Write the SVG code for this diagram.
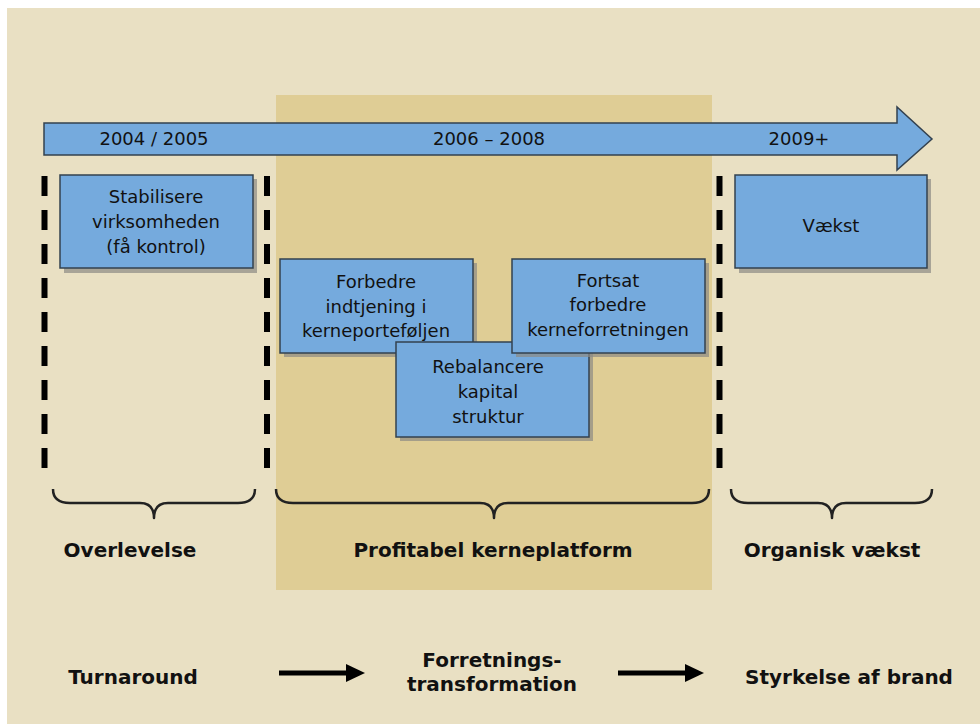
<svg xmlns="http://www.w3.org/2000/svg" width="980" height="724" viewBox="0 0 980 724">
<defs>
<style>
.box{fill:#75AADD;stroke:#33414f;stroke-width:1.5}
.shadow{fill:#8c8a84;opacity:0.7}
.bt{font-family:"DejaVu Sans",Verdana,sans-serif;font-size:18px;fill:#111;text-anchor:middle}
.lb{font-family:"DejaVu Sans",Verdana,sans-serif;font-size:20px;font-weight:bold;fill:#111;text-anchor:middle}
.dash{stroke:#000;stroke-width:6;stroke-dasharray:20 14;fill:none}
.brace{fill:none;stroke:#222;stroke-width:2.5;stroke-linejoin:round}
.arr{stroke:#000;stroke-width:5;fill:none}
</style>
</defs>
<rect x="0" y="0" width="980" height="724" fill="#ffffff"/>
<rect x="7" y="8" width="973" height="716" fill="#E9E0C3"/>
<rect x="276" y="95" width="436" height="495" fill="#DFCD95"/>

<g id="timeline">
<polygon points="44,123 897,123 897,107 932,139 897,170 897,155 44,155" fill="#75AADD" stroke="#33414f" stroke-width="1.5"/>
<text class="bt" x="154" y="145">2004 / 2005</text>
<text class="bt" x="489" y="145">2006 – 2008</text>
<text class="bt" x="799" y="145">2009+</text>
</g>

<g id="dividers">
<line class="dash" x1="44.5" y1="176" x2="44.5" y2="470"/>
<line class="dash" x1="267" y1="176" x2="267" y2="470"/>
<line class="dash" x1="719.5" y1="176" x2="719.5" y2="470"/>
</g>

<g id="stabilisere">
<rect class="shadow" x="64" y="179" width="193" height="94"/>
<rect class="box" x="60" y="175" width="193" height="93"/>
<text class="bt" x="156" y="203">Stabilisere</text>
<text class="bt" x="156" y="228">virksomheden</text>
<text class="bt" x="156" y="253">(få kontrol)</text>
</g>

<g id="forbedre">
<rect class="shadow" x="284" y="263" width="193" height="94"/>
<rect class="box" x="280" y="259" width="193" height="94"/>
<text class="bt" x="376" y="288">Forbedre</text>
<text class="bt" x="376" y="313">indtjening i</text>
<text class="bt" x="376" y="337">kerneporteføljen</text>
</g>

<g id="rebalancere">
<rect class="shadow" x="400" y="346" width="193" height="95"/>
<rect class="box" x="396" y="342" width="193" height="95"/>
<text class="bt" x="488" y="373">Rebalancere</text>
<text class="bt" x="488" y="398">kapital</text>
<text class="bt" x="488" y="423">struktur</text>
</g>

<g id="fortsat">
<rect class="shadow" x="516" y="263" width="193" height="94"/>
<rect class="box" x="512" y="259" width="193" height="94"/>
<text class="bt" x="608" y="287">Fortsat</text>
<text class="bt" x="608" y="311">forbedre</text>
<text class="bt" x="608" y="336">kerneforretningen</text>
</g>

<g id="vaekst">
<rect class="shadow" x="739" y="179" width="192" height="94"/>
<rect class="box" x="735" y="175" width="192" height="93"/>
<text class="bt" x="831" y="232">Vækst</text>
</g>

<g id="braces">
<path class="brace" d="M53,489 Q53,503 70,503 L140,503 Q154,503 154,518 Q154,503 168,503 L238,503 Q255,503 255,489"/>
<path class="brace" d="M276,489 Q276,503 293,503 L480,503 Q494,503 494,518 Q494,503 508,503 L692,503 Q709,503 709,489"/>
<path class="brace" d="M731,489 Q731,503 748,503 L818,503 Q832,503 832,518 Q832,503 846,503 L915,503 Q932,503 932,489"/>
</g>

<g id="labels">
<text class="lb" x="130" y="557">Overlevelse</text>
<text class="lb" x="493" y="557">Profitabel kerneplatform</text>
<text class="lb" x="832" y="557">Organisk vækst</text>
</g>

<g id="turnaround"><text class="lb" x="133" y="684">Turnaround</text></g>
<g id="transformation">
<text class="lb" x="492" y="667">Forretnings-</text>
<text class="lb" x="492" y="691">transformation</text>
</g>
<g id="brand"><text class="lb" x="849" y="684">Styrkelse af brand</text></g>

<g id="connectors">
<line class="arr" x1="279" y1="673" x2="350" y2="673"/>
<polygon points="346,664 365,673 346,682" fill="#000"/>
<line class="arr" x1="618" y1="673" x2="689" y2="673"/>
<polygon points="685,664 704,673 685,682" fill="#000"/>
</g>
</svg>
